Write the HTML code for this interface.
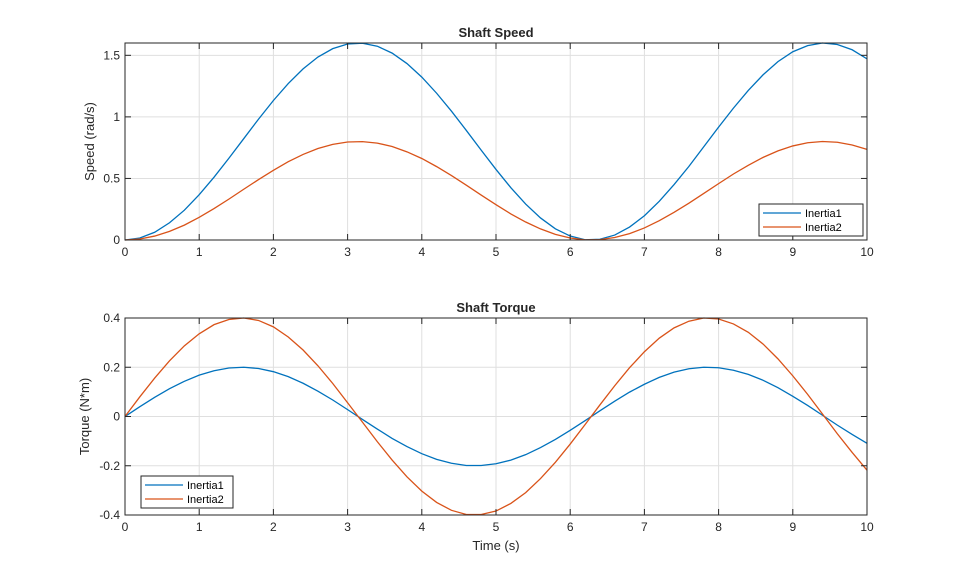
<!DOCTYPE html>
<html><head><meta charset="utf-8"><style>
body{margin:0;background:#fff}
svg{display:block;font-family:"Liberation Sans",Arial,sans-serif}
</style></head><body>
<svg id="fig" width="959" height="577"></svg>
<script>
const timeValues=[0,0.2,0.4,0.6,0.8,1,1.2,1.4,1.6,1.8,2,2.2,2.4,2.6,2.8,3,3.2,3.4,3.6,3.8,4,4.2,4.4,4.6,4.8,5,5.2,5.4,5.6,5.8,6,6.2,6.4,6.6,6.8,7,7.2,7.4,7.6,7.8,8,8.2,8.4,8.6,8.8,9,9.2,9.4,9.6,9.8,10];
const speedInertia1=[0,.016,.063,.140,.242,.368,.510,.664,.823,.982,1.133,1.271,1.390,1.486,1.554,1.592,1.598,1.574,1.518,1.433,1.323,1.192,1.046,.890,.730,.573,.425,.292,.179,.091,.032,.002,.006,.040,.105,.197,.314,.450,.598,.757,.917,1.071,1.215,1.342,1.449,1.529,1.579,1.600,1.588,1.545,1.471];
const speedInertia2=[0,.008,.032,.070,.121,.184,.255,.332,.412,.491,.566,.636,.695,.743,.777,.796,.799,.787,.759,.716,.662,.596,.523,.445,.365,.287,.212,.146,.090,.046,.016,.001,.003,.020,.052,.098,.157,.225,.299,.378,.458,.536,.607,.671,.724,.764,.790,.800,.794,.772,.736];
const torqueInertia1=[0,.040,.078,.113,.143,.168,.186,.197,.200,.195,.182,.162,.135,.103,.067,.028,-.012,-.051,-.089,-.122,-.151,-.174,-.190,-.199,-.199,-.192,-.177,-.155,-.126,-.093,-.056,-.017,.023,.062,.099,.131,.159,.180,.194,.200,.198,.188,.171,.147,.117,.082,.045,.005,-.035,-.073,-.109];
const torqueInertia2=[0,.080,.156,.226,.287,.336,.373,.394,.400,.390,.364,.323,.270,.206,.134,.056,-.023,-.102,-.177,-.245,-.303,-.349,-.381,-.398,-.398,-.384,-.353,-.309,-.252,-.186,-.112,-.033,.047,.125,.198,.263,.318,.360,.387,.400,.396,.376,.342,.294,.234,.165,.090,.010,-.070,-.146,-.218];
const xTicks=[0,1,2,3,4,5,6,7,8,9,10];
const speedTicks=[0,0.5,1,1.5];
const speedTickLabels=["0","0.5","1","1.5"];
const torqueTicks=[-0.4,-0.2,0,0.2,0.4];
const torqueTickLabels=["-0.4","-0.2","0","0.2","0.4"];
const seriesNames=["Inertia1","Inertia2"];
const colors=["#0072BD","#D95319"];
const NS="http://www.w3.org/2000/svg";
const svg=document.getElementById('fig');
function el(tag,attrs,parent){const e=document.createElementNS(NS,tag);for(const k in attrs)e.setAttribute(k,attrs[k]);(parent||svg).appendChild(e);return e;}
function axes(cfg){
  const {x0,x1,y0,y1,ymin,ymax,yTicks,yLabels,title,ylabel,series,legend,name}=cfg;
  const g=el('g',{});
  
  
  const sx=v=>x0+(v-0)/(10-0)*(x1-x0);
  const sy=v=>y1-(v-ymin)/(ymax-ymin)*(y1-y0);
  el('rect',{x:x0,y:y0,width:x1-x0,height:y1-y0,fill:'#fff'},g);
  xTicks.forEach(t=>{const l=el('line',{x1:sx(t),x2:sx(t),y1:y0,y2:y1,stroke:'#dfdfdf','stroke-width':1},g);});
  yTicks.forEach(t=>{const l=el('line',{x1:x0,x2:x1,y1:sy(t),y2:sy(t),stroke:'#dfdfdf','stroke-width':1},g);});
  series.forEach((s,i)=>{
    const d=timeValues.map((t,j)=>(j?'L':'M')+sx(t).toFixed(2)+','+sy(s[j]).toFixed(2)).join('');
    const p=el('path',{d,fill:'none',stroke:colors[i],'stroke-width':1.3},g);
    
    
  });
  el('rect',{x:x0,y:y0,width:x1-x0,height:y1-y0,fill:'none',stroke:'#262626','stroke-width':1},g);
  xTicks.forEach(t=>{
    el('line',{x1:sx(t),x2:sx(t),y1:y1,y2:y1-6,stroke:'#262626'},g);
    el('line',{x1:sx(t),x2:sx(t),y1:y0,y2:y0+6,stroke:'#262626'},g);
    const tx=el('text',{x:sx(t),y:y1+16,'font-size':12,'text-anchor':'middle',fill:'#262626'},g);tx.textContent=t;
    
  });
  yTicks.forEach((t,i)=>{
    el('line',{x1:x0,x2:x0+6,y1:sy(t),y2:sy(t),stroke:'#262626'},g);
    el('line',{x1:x1,x2:x1-6,y1:sy(t),y2:sy(t),stroke:'#262626'},g);
    const tx=el('text',{x:x0-5,y:sy(t)+4,'font-size':12,'text-anchor':'end',fill:'#262626'},g);tx.textContent=yLabels[i];
    
  });
  const ti=el('text',{x:(x0+x1)/2,y:y0-6,'font-size':13,'font-weight':'bold','text-anchor':'middle',fill:'#262626'},g);ti.textContent=title;
  
  const yl=el('text',{x:0,y:0,'font-size':13,'text-anchor':'middle',fill:'#262626',transform:`translate(${cfg.ylx},${(y0+y1)/2}) rotate(-90)`},g);yl.textContent=ylabel;
  
  const lg=el('g',{},g);
  
  el('rect',{x:legend.x,y:legend.y,width:legend.w,height:32,fill:'#fff',stroke:'#262626','stroke-width':1},lg);
  seriesNames.forEach((n,i)=>{
    const yy=legend.y+9+i*14;
    el('line',{x1:legend.x+4,x2:legend.x+42,y1:yy,y2:yy,stroke:colors[i],'stroke-width':1.3},lg);
    const t=el('text',{x:legend.x+46,y:yy+4,'font-size':11,fill:'#000'},lg);t.textContent=n;
    
  });
}
axes({name:'shaft-speed-axes',x0:125,x1:867,y0:43,y1:240,ymin:0,ymax:1.6,yTicks:speedTicks,yLabels:speedTickLabels,title:'Shaft Speed',ylabel:'Speed (rad/s)',ylx:94,series:[speedInertia1,speedInertia2],legend:{x:759,y:204,w:104}});
axes({name:'shaft-torque-axes',x0:125,x1:867,y0:318,y1:515,ymin:-0.4,ymax:0.4,yTicks:torqueTicks,yLabels:torqueTickLabels,title:'Shaft Torque',ylabel:'Torque (N*m)',ylx:89,series:[torqueInertia1,torqueInertia2],legend:{x:141,y:476,w:92}});
const xl=el('text',{x:496,y:550,'font-size':13,'text-anchor':'middle',fill:'#262626'});xl.textContent='Time (s)';


</script>
</body></html>
